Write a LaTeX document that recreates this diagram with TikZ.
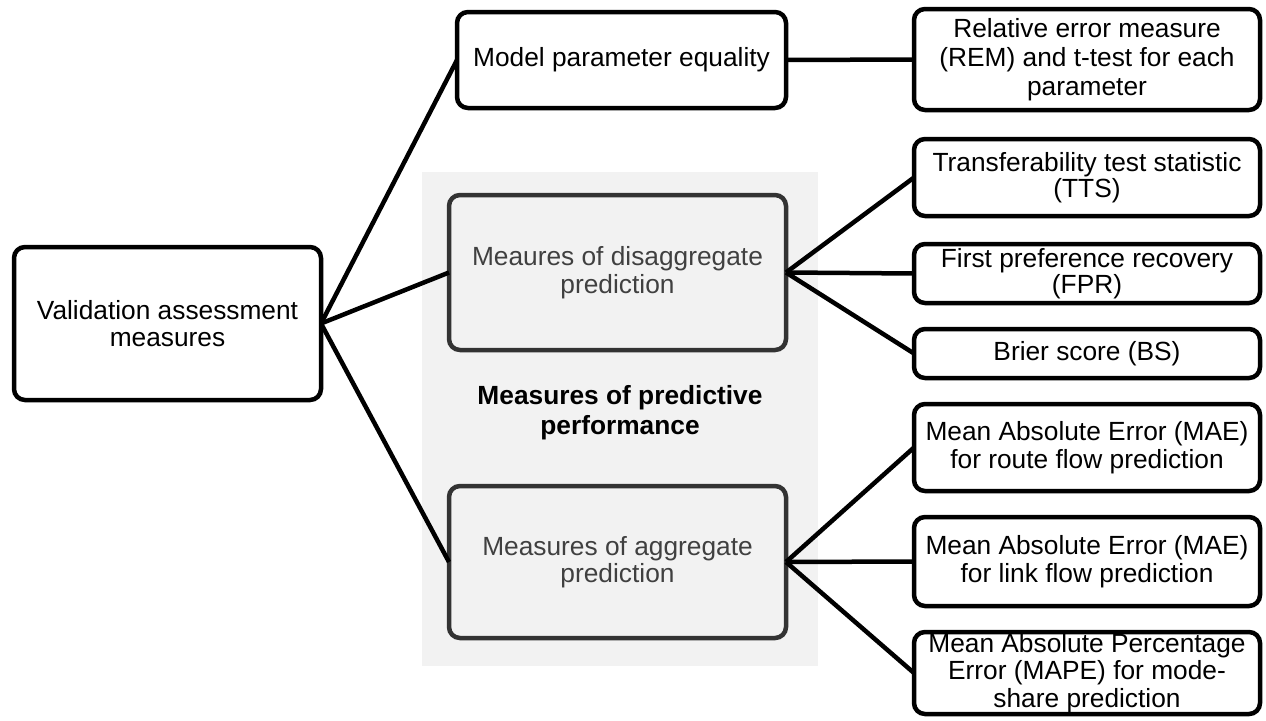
\documentclass[tikz,border=0pt]{standalone}
\usepackage{fontspec}
\setmainfont{Liberation Sans}
\begin{document}
\begin{tikzpicture}[x=1pt,y=-1pt,
  every node/.style={inner sep=0pt,outer sep=0pt},
  box/.style={draw=black,line width=4.5pt,rounded corners=11pt,fill=white,align=center,
    font=\fontsize{26.3}{27.5}\selectfont,text=black},
  gbox/.style={box,draw=black!80,fill=gray!10,text=black!75},
  conn/.style={line width=4.5pt,black},
]
\useasboundingbox (0,0) rectangle (1266,720);
\fill[gray!10] (422,172) rectangle (818,666);
\node[font=\fontsize{26.3}{30}\selectfont\bfseries,align=center] (lbl) at (620,413) {Measures of predictive\\performance};

\node[box,minimum width=307,minimum height=153] (val) at (167.5,323.5) {Validation assessment\\measures};
\node[box,minimum width=329,minimum height=96] (mod) at (621.5,60) {Model parameter equality};
\node[box,minimum width=346,minimum height=101,font=\fontsize{26.3}{29}\selectfont] (rem) at (1087,59.5) {Relative error measure\\(REM) and t-test for each\\parameter};
\node[gbox,minimum width=337,minimum height=155] (dis) at (617.5,272.5) {Meaures of disaggregate\\prediction};
\node[gbox,minimum width=337,minimum height=152] (agg) at (617.5,562) {Measures of aggregate\\prediction};
\node[box,minimum width=346,minimum height=77,font=\fontsize{26.3}{26}\selectfont] (tts) at (1087,177.5) {Transferability test statistic\\(TTS)};
\node[box,minimum width=346,minimum height=59,font=\fontsize{26.3}{26}\selectfont] (fpr) at (1087,273.5) {First preference recovery\\(FPR)};
\node[box,minimum width=346,minimum height=49] (bs) at (1087,353.5) {Brier score (BS)};
\node[box,minimum width=346,minimum height=87] (mr) at (1087,447.5) {Mean Absolute Error (MAE)\\for route flow prediction};
\node[box,minimum width=346,minimum height=89] (ml) at (1087,561.5) {Mean Absolute Error (MAE)\\for link flow prediction};
\node[box,minimum width=346,minimum height=82] (mape) at (1087,673) {Mean Absolute Percentage\\Error (MAPE) for mode-\\share prediction};

\draw[conn] (val.east) -- (mod.west);
\draw[conn] (val.east) -- (dis.west);
\draw[conn] (val.east) -- (agg.west);
\draw[conn] (mod.east) -- (rem.west);
\draw[conn] (dis.east) -- (tts.west);
\draw[conn] (dis.east) -- (fpr.west);
\draw[conn] (dis.east) -- (bs.west);
\draw[conn] (agg.east) -- (mr.west);
\draw[conn] (agg.east) -- (ml.west);
\draw[conn] (agg.east) -- (mape.west);
\end{tikzpicture}
\end{document}
